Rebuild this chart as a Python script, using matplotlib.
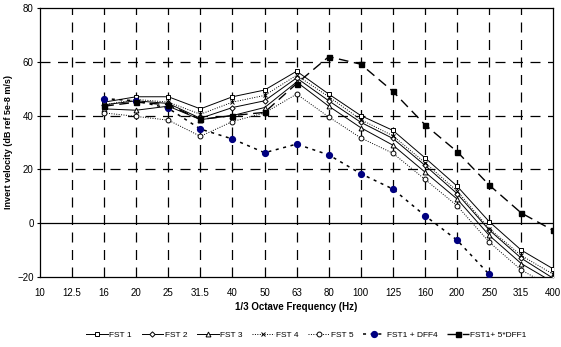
import numpy as np
import matplotlib
matplotlib.use("Agg")
import matplotlib.pyplot as plt

nan = np.nan
freqs = ['10', '12.5', '16', '20', '25', '31.5', '40', '50', '63', '80', '100',
         '125', '160', '200', '250', '315', '400']
fst1 = [nan, nan, 45, 47, 47, 42.5, 47, 49.5, 56.5, 48, 40, 34.5, 24.3, 13.8, 0.6, -10, -17]
fst2 = [nan, nan, 44, 45.5, 44.5, 39, 43, 45.5, 54, 45.5, 37.5, 31.5, 21.5, 11, -2.5, -13, -20.5]
fst3 = [nan, nan, 42.5, 42, 43.5, 38.5, 40, 43, 52.5, 43.5, 35.5, 29, 19, 9, -4.5, -15, -22]
fst4 = [nan, nan, 44, 46, 45, 40.5, 45, 47.5, 55, 47, 38.5, 32.5, 22.5, 12, -2, -12, -19]
fst5 = [nan, nan, 41, 39.7, 38.3, 32.3, 37.8, 41, 48, 39.5, 31.7, 26, 16.3, 6.5, -7, -17.4, -24]
dff4 = [nan, nan, 46.3, 45.5, 42.7, 35, 31.3, 26.2, 29.4, 25.4, 18.4, 12.7, 2.8, -6.3, -19, nan, nan]
dff1 = [nan, nan, 43.5, 45, 44, 38.6, 40, 41.2, 51.9, 61.9, 59.1, 49, 36.6, 26.6, 14.2, 3.8, -2.7]

plt.rcParams['font.family'] = ['Liberation Sans', 'DejaVu Sans']

fig = plt.figure(figsize=(5.61, 3.47), dpi=100)
ax = fig.add_axes([0.0713, 0.2017, 0.915, 0.7753])
x = np.arange(len(freqs))

# grid
for xi in x[1:-1]:
    ax.axvline(xi, color='black', lw=0.9, ls=(0, (8, 6)), zorder=1)
for yv in [20, 40, 60]:
    ax.axhline(yv, color='black', lw=0.9, ls=(0, (8, 6)), zorder=1)
ax.axhline(0, color='black', lw=0.9, zorder=1)

ms = 3.5
ax.plot(x, fst1, color='black', lw=0.7, marker='s', mfc='white', mec='black', ms=ms, mew=0.7, label='FST 1', zorder=3)
ax.plot(x, fst2, color='black', lw=0.7, marker='D', mfc='white', mec='black', ms=ms - 0.8, mew=0.7, label='FST 2', zorder=3)
ax.plot(x, fst3, color='black', lw=0.7, marker='^', mfc='white', mec='black', ms=ms, mew=0.7, label='FST 3', zorder=3)
ax.plot(x, fst4, color='black', lw=0.7, ls=(0, (1, 1.5)), marker='x', mec='black', ms=ms, mew=0.7, label='FST 4', zorder=3)
ax.plot(x, fst5, color='black', lw=0.7, ls=(0, (1, 1.5)), marker='o', mfc='white', mec='black', ms=ms, mew=0.7, label='FST 5', zorder=3)
ax.plot(x, dff4, color='black', lw=1.1, ls=(0, (2, 3)), marker='o', mfc='#000080', mec='#000080', ms=4.2, label='FST1 + DFF4', zorder=4)
ax.plot(x, dff1, color='black', lw=1.0, ls=(0, (7, 4)), marker='s', mfc='black', mec='black', ms=3.6, label='FST1+ 5*DFF1', zorder=4)

ax.set_xlim(0, len(freqs) - 1)
ax.set_ylim(-20, 80)
ax.set_xticks(x)
ax.set_xticklabels(freqs, fontsize=7)
ax.set_yticks([-20, 0, 20, 40, 60, 80])
ax.tick_params(axis='y', labelsize=7, length=2.5, width=0.8, direction='out', pad=2)
ax.tick_params(axis='x', length=0, pad=8)
for s in ax.spines.values():
    s.set_linewidth(0.9)
    s.set_color('black')

ax.set_xlabel('1/3 Octave Frequency (Hz)', fontsize=7, fontweight='bold', labelpad=3)
ax.set_ylabel('Invert velocity (dB ref 5e-8 m/s)', fontsize=6.5, fontweight='bold', labelpad=3)

fig.legend(loc='center', bbox_to_anchor=(0.546, 0.035), ncol=7, fontsize=6, frameon=False,
           handlelength=2.6, columnspacing=1.15, handletextpad=0.2)

fig.savefig('out.png', dpi=100)
